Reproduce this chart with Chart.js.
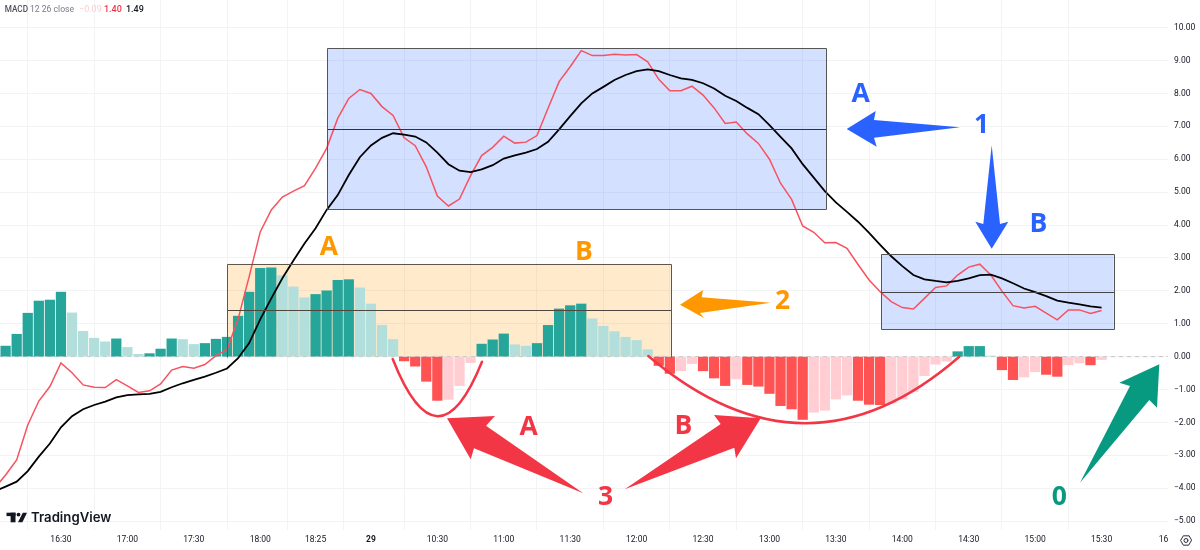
<!DOCTYPE html>
<html>
<head>
<meta charset="utf-8">
<title>MACD 12 26 close</title>
<style>html,body{margin:0;padding:0;background:#fff}canvas{display:block}</style>
<script src="https://cdn.jsdelivr.net/npm/chart.js@4"></script>
</head>
<body>
<canvas id="c" width="1200" height="550" style="width:1200px;height:550px"></canvas>
<script>
const tickIndex  = [5, 11, 17, 23, 28, 33, 39, 45, 51, 57, 63, 69, 75, 81, 87, 93, 99, 104.6];
const tickLabels = ['16:30','17:00','17:30','18:00','18:25','29','10:30','11:00','11:30','12:00','12:30','13:00','13:30','14:00','14:30','15:00','15:30','16'];
const valueTicks = [10,9,8,7,6,5,4,3,2,1,0,-1,-2,-3,-4,-5];

const histValues = [
 0.32,0.68,1.32,1.69,1.72,1.96,1.33,0.77,0.56,0.45,
 0.54,0.28,0.07,0.09,0.23,0.54,0.52,0.37,0.40,0.53,
 0.59,1.23,1.96,2.68,2.70,2.46,2.12,1.79,1.89,2.00,
 2.32,2.34,2.09,1.60,0.95,0.52,-0.13,-0.29,-0.75,-1.33,
 -1.30,-0.88,-0.18,0.38,0.51,0.69,0.36,0.32,0.40,0.95,
 1.45,1.55,1.60,1.15,0.92,0.76,0.59,0.49,0.21,-0.27,
 -0.51,-0.43,-0.21,-0.43,-0.65,-0.88,-0.68,-0.85,-0.90,-1.12,
 -1.49,-1.59,-1.91,-1.69,-1.63,-1.29,-1.17,-1.33,-1.45,-1.46,
 -1.41,-1.29,-1.06,-0.58,-0.23,-0.14,0.15,0.31,0.31,0.02,
 -0.40,-0.70,-0.62,-0.46,-0.54,-0.60,-0.25,-0.19,-0.25,-0.09];

// first entry sits one bar left of the visible plot edge
const macdValues = [
 -4.00,-3.60,-3.14,-2.08,-1.35,-0.91,-0.19,-0.49,-0.86,-0.93,-0.94,
 -0.70,-0.89,-1.09,-1.04,-0.83,-0.41,-0.30,-0.35,-0.24,0.03,
 0.22,1.14,2.43,3.79,4.46,4.85,5.03,5.20,5.73,6.33,
 7.24,7.85,8.12,8.00,7.60,7.33,6.65,6.41,5.77,4.88,
 4.58,4.79,5.50,6.11,6.36,6.70,6.49,6.52,6.72,7.55,
 8.36,8.81,9.30,9.15,9.15,9.19,9.17,9.18,8.96,8.43,
 8.08,8.08,8.22,7.95,7.56,7.09,7.13,6.77,6.48,6.00,
 5.27,4.78,3.97,3.78,3.46,3.47,3.29,2.80,2.33,1.97,
 1.67,1.49,1.45,1.77,2.10,2.15,2.48,2.72,2.81,2.48,
 1.99,1.55,1.48,1.53,1.32,1.12,1.42,1.42,1.31,1.40];

const signalValues = [
 -4.10,-3.95,-3.80,-3.48,-3.04,-2.64,-2.15,-1.81,-1.60,-1.47,-1.37,
 -1.24,-1.17,-1.15,-1.13,-1.07,-0.93,-0.81,-0.71,-0.61,-0.49,
 -0.36,-0.05,0.41,1.13,1.77,2.38,2.92,3.44,3.90,4.46,
 4.91,5.52,6.06,6.42,6.65,6.79,6.75,6.69,6.51,6.20,
 5.85,5.65,5.61,5.69,5.82,6.02,6.12,6.20,6.31,6.53,
 6.91,7.31,7.70,8.00,8.20,8.41,8.56,8.68,8.73,8.68,
 8.56,8.46,8.41,8.31,8.15,7.93,7.77,7.56,7.37,7.04,
 6.68,6.33,5.85,5.44,5.03,4.69,4.40,4.10,3.76,3.40,
 3.05,2.75,2.48,2.35,2.30,2.26,2.30,2.38,2.48,2.49,
 2.38,2.23,2.07,1.96,1.84,1.70,1.64,1.59,1.53,1.49];

const zeroLine = [{x:-0.6,y:0},{x:105,y:0}];

// Rectangles, in bar index / MACD value units
const boxes = [
 {x0:29.06,x1:74.1, top:9.38,bottom:4.48,mid:6.93,fill:'rgba(41,98,255,0.2)', edge:'#555',midColor:'#333', midW:1},
 {x0:20.02,x1:60.08,top:2.82,bottom:0,   mid:1.41,fill:'rgba(255,152,0,0.2)', edge:'#5f574c',midColor:'#4e473d',midW:1},
 {x0:79.08,x1:100.1,top:3.12,bottom:0.83,mid:1.96,fill:'rgba(41,98,255,0.2)', edge:'#555',midColor:'#444',midW:1}
];

const BLUE='#2962ff', ORANGE='#ff9800', RED='#f23645', GREEN='#089981';
const arrows = [
 {c:BLUE,  p:[[846.7,129],[875.7,111],[874,120],[960,127.3],[874,137.7],[876.7,146.7]]},
 {c:BLUE,  p:[[991.7,145.3],[1000,224],[1008.3,221.7],[991.7,248.7],[975.3,221.7],[983.3,224]]},
 {c:ORANGE,p:[[680,304.7],[703,290],[701.7,297.3],[770.7,302.7],[700,313],[704,318]]},
 {c:RED,   p:[[447,418.3],[495,416],[486,425.7],[583.3,493.3],[474,448.3],[470.7,459.3]]},
 {c:RED,   p:[[760.7,418.3],[714,415],[720.7,424],[624.7,489.3],[734.3,447.7],[736,458.3]]},
 {c:GREEN, p:[[1159.3,364.3],[1119.3,382.7],[1130,386],[1080,482.7],[1149.3,400],[1157,407.7]]}
];
const notes = [
 ['A',860.7,93.3,BLUE],['1',981.7,124.7,BLUE],['B',1038.3,223.3,BLUE],
 ['A',329,246,ORANGE],['B',584,251,ORANGE],['2',782.7,300,ORANGE],
 ['A',528.7,426.7,RED],['B',683.3,425.7,RED],['3',605.7,496.7,RED],
 ['0',1059.3,496.7,GREEN]
];
const curves = [
 [[392.7,359],[437.5,472],[482,361.7]],
 [[648.3,356],[806,490],[959.3,356.7]]
];

const barColor = histValues.map((v,i)=>{
  const prev = i ? histValues[i-1] : 0;
  if (v >= 0) return v >= prev ? '#26a69a' : '#b2dfdb';
  return v < prev ? '#ff5252' : '#ffcdd2';
});

const snap = v => Math.round(v) + 0.5;

const overlay = {
  id:'overlay',
  beforeDatasetsDraw(ch){
    const c=ch.ctx, X=ch.scales.x, Y=ch.scales.y;
    c.save();
    boxes.forEach(b=>{
      c.fillStyle=b.fill;
      c.fillRect(X.getPixelForValue(b.x0),Y.getPixelForValue(b.top),
                 X.getPixelForValue(b.x1)-X.getPixelForValue(b.x0),
                 Y.getPixelForValue(b.bottom)-Y.getPixelForValue(b.top));
    });
    c.restore();
  },
  afterDatasetsDraw(ch){
    const c=ch.ctx, X=ch.scales.x, Y=ch.scales.y;
    c.save();
    boxes.forEach(b=>{
      const l=snap(X.getPixelForValue(b.x0)), r=snap(X.getPixelForValue(b.x1)),
            t=snap(Y.getPixelForValue(b.top)), u=snap(Y.getPixelForValue(b.bottom)), m=snap(Y.getPixelForValue(b.mid));
      c.strokeStyle=b.midColor; c.lineWidth=b.midW;
      c.beginPath(); c.moveTo(l,m); c.lineTo(r,m); c.stroke();
      c.strokeStyle=b.edge; c.lineWidth=1;
      c.beginPath();
      c.moveTo(l,u); c.lineTo(l,t); c.lineTo(r,t); c.lineTo(r,u);
      if (b.bottom>0) c.closePath();
      c.stroke();
    });
    curves.forEach(q=>{
      c.strokeStyle=RED; c.lineWidth=2.5; c.lineCap='round';
      c.beginPath(); c.moveTo(q[0][0],q[0][1]);
      c.quadraticCurveTo(q[1][0],q[1][1],q[2][0],q[2][1]); c.stroke();
    });
    arrows.forEach(a=>{
      c.fillStyle=a.c; c.beginPath();
      a.p.forEach((pt,i)=> i?c.lineTo(pt[0],pt[1]):c.moveTo(pt[0],pt[1]));
      c.closePath(); c.fill();
    });
    c.textAlign='center'; c.textBaseline='middle';
    c.font='700 26.5px "Open Sans"';
    notes.forEach(n=>{ c.fillStyle=n[3]; c.fillText(n[0],n[1],n[2]+1); });

    // legend line
    c.textAlign='left'; c.textBaseline='middle';
    c.font='500 8.2px Roboto'; c.fillStyle='#50535e'; c.fillText('MACD',4.7,9.5);
    c.font='400 8.6px Roboto'; c.fillStyle='#787b86'; c.fillText('12 26 close',30,9.5);
    c.font='400 9px Roboto'; c.fillStyle='#ffcdd2'; c.fillText('\u22120.09',79,9.5);
    c.font='500 9px Roboto'; c.fillStyle=RED; c.fillText('1.40',104,9.5);
    c.fillStyle='#131722'; c.fillText('1.49',126,9.5);

    // TradingView mark
    c.fillStyle='#131722';
    c.fillRect(6.5,512.7,9,3.4); c.fillRect(10.6,512.7,4.9,9.6);
    c.beginPath(); c.arc(18.5,514.6,1.9,0,Math.PI*2); c.fill();
    c.beginPath(); c.moveTo(22.8,512.7); c.lineTo(27,512.7); c.lineTo(22.4,522.3); c.lineTo(18,522.3); c.closePath(); c.fill();
    c.font='600 13.2px Inter'; c.fillText('TradingView',31,518);

    // settings icon
    c.strokeStyle='#131722'; c.lineWidth=0.9;
    c.beginPath();
    for(let i=0;i<6;i++){const a=Math.PI/3*i; const px=1186+5.4*Math.cos(a), py=540.5+5.4*Math.sin(a); i?c.lineTo(px,py):c.moveTo(px,py);}
    c.closePath(); c.stroke();
    c.beginPath(); c.arc(1186,540.5,2,0,Math.PI*2); c.stroke();
    c.restore();
  }
};

new Chart(document.getElementById('c'),{
  type:'bar',
  plugins:[overlay],
  data:{datasets:[
    {type:'line',label:'Signal',order:1,data:signalValues.map((v,i)=>({x:i-1,y:v})),borderColor:'#000',borderWidth:1.8,pointRadius:0,tension:0,fill:false},
    {type:'line',label:'MACD',order:2,data:macdValues.map((v,i)=>({x:i-1,y:v})),borderColor:'#f7525f',borderWidth:1.5,pointRadius:0,tension:0,fill:false},
    {type:'line',label:'Zero',order:4,data:zeroLine,borderColor:'#c2c3c8',borderWidth:1,borderDash:[4,4],pointRadius:0,fill:false},
    {type:'bar',label:'Histogram',order:3,data:histValues.map((v,i)=>({x:i,y:v})),backgroundColor:barColor,borderWidth:0,barThickness:9.6}
  ]},
  options:{
    responsive:false,animation:false,
    devicePixelRatio:1,
    layout:{padding:0},
    plugins:{legend:{display:false},tooltip:{enabled:false},title:{display:false}},
    events:[],
    scales:{
      x:{
        type:'linear',min:-0.506,max:105,offset:false,
        afterBuildTicks(s){ s.ticks=tickIndex.map(v=>({value:v})); },
        afterFit(s){ s.height=20; s.paddingLeft=0; s.paddingRight=0; },
        grid:{color:c=>c.tick&&c.tick.value===104.6?'rgba(0,0,0,0)':'#f2f3f5',lineWidth:1,drawTicks:false},
        border:{display:false},
        ticks:{
          autoSkip:false,maxRotation:0,padding:5,color:'#131722',
          font:c=>({family:'Roboto',size:8.5,weight:c.tick&&c.tick.value===33?'bold':'normal'}),
          callback:v=>tickLabels[tickIndex.indexOf(v)]
        }
      },
      y:{
        type:'linear',position:'right',min:-5.27,max:10.84,
        afterBuildTicks(s){ s.ticks=valueTicks.map(v=>({value:v})); },
        afterFit(s){ s.width=32; s.paddingTop=0; s.paddingBottom=0; },
        grid:{color:'#f2f3f5',lineWidth:1,drawTicks:false},
        border:{display:false},
        ticks:{
          padding:6,color:'#131722',font:{family:'Roboto',size:8.5},
          callback:v=>(v<0?'\u2212':'')+Math.abs(v).toFixed(2)
        }
      }
    }
  }
});
</script>
</body>
</html>
